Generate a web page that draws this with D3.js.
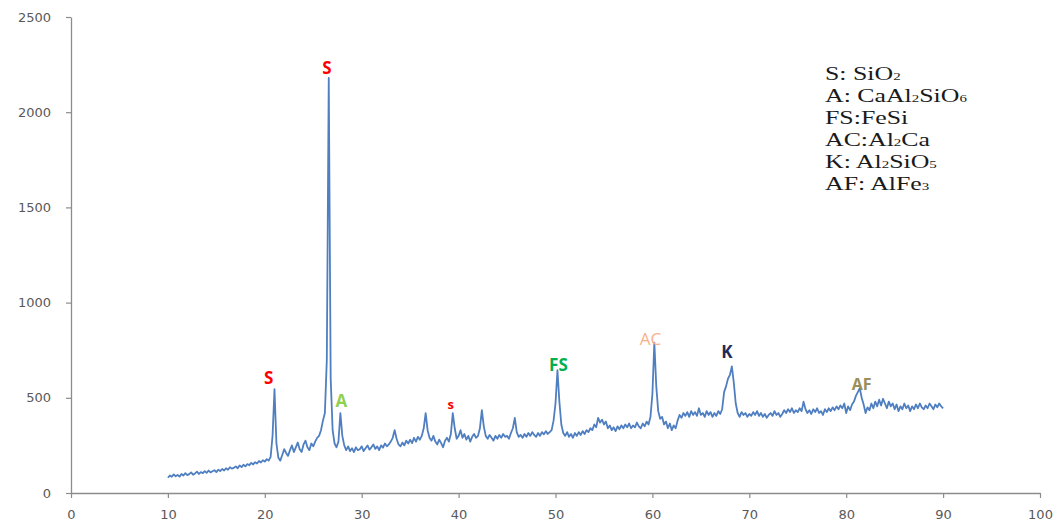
<!DOCTYPE html>
<html>
<head>
<meta charset="utf-8">
<script src="https://cdn.jsdelivr.net/npm/d3@7"></script>
<style>
  body { margin: 0; background: #fff; }
  svg { display: block; }
</style>
</head>
<body>
<svg id="chart"></svg>
<script>
// XRD pattern, 2-theta from 10 to 90 in 0.2 steps
const angleStart = 10;
const angleStep = 0.2;

// intensities, one row per 5 degrees
const intensity = [
  // 10 - 14.8
  80, 92, 85, 98, 88, 95, 86, 100, 92, 104, 94, 99, 108, 96, 103, 112, 100, 110, 104, 115, 106, 118, 108, 114, 120,
  // 15 - 19.8
  110, 122, 115, 126, 118, 130, 122, 135, 128, 132, 140, 130, 145, 136, 148, 140, 152, 146, 158, 150, 162, 155, 168, 160, 172,
  // 20 - 24.8
  165, 178, 170, 190, 300, 545, 260, 185, 170, 200, 230, 210, 195, 225, 250, 215, 240, 265, 230, 215, 255, 275, 240, 225, 260,
  // 25 - 29.8
  245, 270, 290, 300, 330, 380, 420, 700, 2180, 600, 330, 260, 240, 270, 420, 300, 250, 225, 245, 220, 235, 215, 240, 225, 230,
  // 30 - 34.8
  245, 220, 235, 250, 228, 240, 255, 232, 245, 225, 250, 238, 260, 245, 255, 270, 290, 330, 285, 255, 245, 265, 250, 275, 260,
  // 35 - 39.8
  280, 262, 290, 270, 295, 280, 300, 340, 420, 330, 290, 275, 300, 270, 255, 280, 262, 240, 275, 290, 270, 310, 420, 340, 285,
  // 40 - 44.8
  300, 330, 290, 310, 280, 300, 270, 295, 310, 290, 300, 340, 435, 350, 300, 285, 305, 290, 275, 300, 285, 305, 290, 310, 295,
  // 45 - 49.8
  300, 285, 315, 340, 395, 320, 295, 305, 290, 310, 295, 315, 300, 320, 305, 295, 315, 300, 320, 308, 325, 310, 320, 330, 380,
  // 50 - 54.8
  470, 645, 480, 360, 315, 300, 320, 295, 310, 290, 315, 300, 320, 305, 325, 310, 330, 320, 340, 330, 360, 345, 395, 370, 385,
  // 55 - 59.8
  360, 375, 340, 355, 330, 345, 325, 350, 335, 355, 340, 360, 345, 365, 340, 355, 345, 370, 350, 340, 365, 350, 375, 360, 400,
  // 60 - 64.8
  520, 790, 560, 430, 390, 400, 360, 375, 340, 365, 330, 355, 340, 380, 410, 395, 420, 405, 425, 400, 430, 410, 425, 405, 445,
  // 65 - 69.8
  410, 420, 400, 430, 410, 425, 400, 420, 405, 430, 415, 440, 530, 560, 600, 620, 665, 580, 470, 420, 400, 425, 410, 420, 400,
  // 70 - 74.8
  415, 405, 425, 410, 430, 405, 420, 400, 415, 395, 410, 420, 405, 430, 410, 420, 400, 415, 435, 420, 440, 425, 445, 420, 435,
  // 75 - 79.8
  425, 445, 430, 480, 440, 420, 435, 415, 440, 425, 445, 420, 430, 410, 440, 425, 445, 430, 450, 435, 455, 440, 460, 445, 470,
  // 80 - 84.8
  420, 455, 435, 465, 480, 510, 530, 550, 500, 465, 420, 450, 435, 470, 445, 480, 455, 490, 460, 495, 470, 445, 480, 455, 470,
  // 85 - 89.8
  440, 465, 430, 455, 440, 470, 445, 460, 430, 455, 440, 465, 445, 470, 450, 440, 460, 445, 470, 455, 440, 465, 450, 470, 455,
  // 90
  445
];

// peak labels: text, angle, intensity, colour, size
const peakText  = ["S", "S", "A", "s", "FS", "AC", "K", "AF"];
const peakAngle = [26.4, 20.4, 27.9, 39.2, 50.3, 59.8, 67.7, 81.6];
const peakLevel = [2200, 572, 452, 441, 640, 777, 709, 541];
const peakColor = ["#ff0000", "#ff0000", "#92d050", "#ff0000", "#00b050", "#fab08a", "#1f2a5c", "#9a8f5a"];
const peakSize  = [17, 17, 17, 13, 17, 17, 17, 16];

// phase legend, "_n" marks a subscript
const legendItems = ["S: SiO_2", "A: CaAl_2SiO_6", "FS:FeSi", "AC:Al_2Ca", "K: Al_2SiO_5", "AF: AlFe_3"];

const xTicks = [0, 10, 20, 30, 40, 50, 60, 70, 80, 90, 100];
const yTicks = [0, 500, 1000, 1500, 2000, 2500];

const WIDTH = 1059;
const HEIGHT = 529;

let svg = d3.select("#chart")
  .attr("width", WIDTH)
  .attr("height", HEIGHT);

let x = d3.scaleLinear()
  .domain([0, 100])
  .range([71, 1040]);

let y = d3.scaleLinear()
  .domain([0, 2500])
  .range([493, 17]);

let points = intensity.map((v, i) => ({ angle: angleStart + i * angleStep, value: v }));

// axes
let xAxis = svg.append("g")
  .attr("transform", "translate(0," + y(0) + ")")
  .call(d3.axisBottom(x).tickValues(xTicks).tickFormat(d3.format("d"))
    .tickSize(5).tickPadding(12).tickSizeOuter(0));

let yAxis = svg.append("g")
  .attr("transform", "translate(" + x(0) + ",0)")
  .call(d3.axisLeft(y).tickValues(yTicks).tickFormat(d3.format("d"))
    .tickSize(5).tickPadding(15).tickSizeOuter(0));

[xAxis, yAxis].forEach((ax) => {
  ax.select(".domain").attr("stroke", "#8c8c8c").attr("stroke-width", 1.3);
  ax.selectAll(".tick line").attr("stroke", "#8c8c8c").attr("stroke-width", 1.2);
  ax.selectAll(".tick text")
    .attr("fill", "#595959")
    .style("font-family", "'DejaVu Sans', sans-serif")
    .style("font-size", "13px");
});

// pattern
let line = d3.line()
  .x(d => x(d.angle))
  .y(d => y(d.value));

svg.append("path")
  .datum(points)
  .attr("d", line)
  .attr("fill", "none")
  .attr("stroke", "#4f7fc0")
  .attr("stroke-width", 1.8)
  .attr("stroke-linejoin", "round");

// peak labels
svg.selectAll(".peakLabel")
  .data(peakText)
.enter().append("text")
  .attr("class", "peakLabel")
  .attr("x", (d, i) => x(peakAngle[i]))
  .attr("y", (d, i) => y(peakLevel[i]))
  .attr("text-anchor", "middle")
  .attr("fill", (d, i) => peakColor[i])
  .style("font-family", "'Open Sans', sans-serif")
  .style("font-weight", (d, i) => d === "AC" ? "normal" : "bold")
  .style("font-size", (d, i) => peakSize[i] + "px")
  .text(d => d);

// legend (text is drawn wider than normal, as in the source image)
let legend = svg.append("g")
  .attr("transform", "translate(825,0) scale(1.36,1)");

legendItems.forEach((item, i) => {
  let t = legend.append("text")
    .attr("x", 0)
    .attr("y", 80 + i * 22)
    .attr("fill", "#1a1a1a")
    .style("font-family", "'Liberation Serif', 'Times New Roman', serif")
    .style("font-size", "19px");
  item.split(/(_\d)/).filter(s => s.length).forEach((part) => {
    if (part[0] === "_") {
      t.append("tspan").style("font-size", "11px").text(part.slice(1));
    } else {
      t.append("tspan").text(part);
    }
  });
});
</script>
</body>
</html>
